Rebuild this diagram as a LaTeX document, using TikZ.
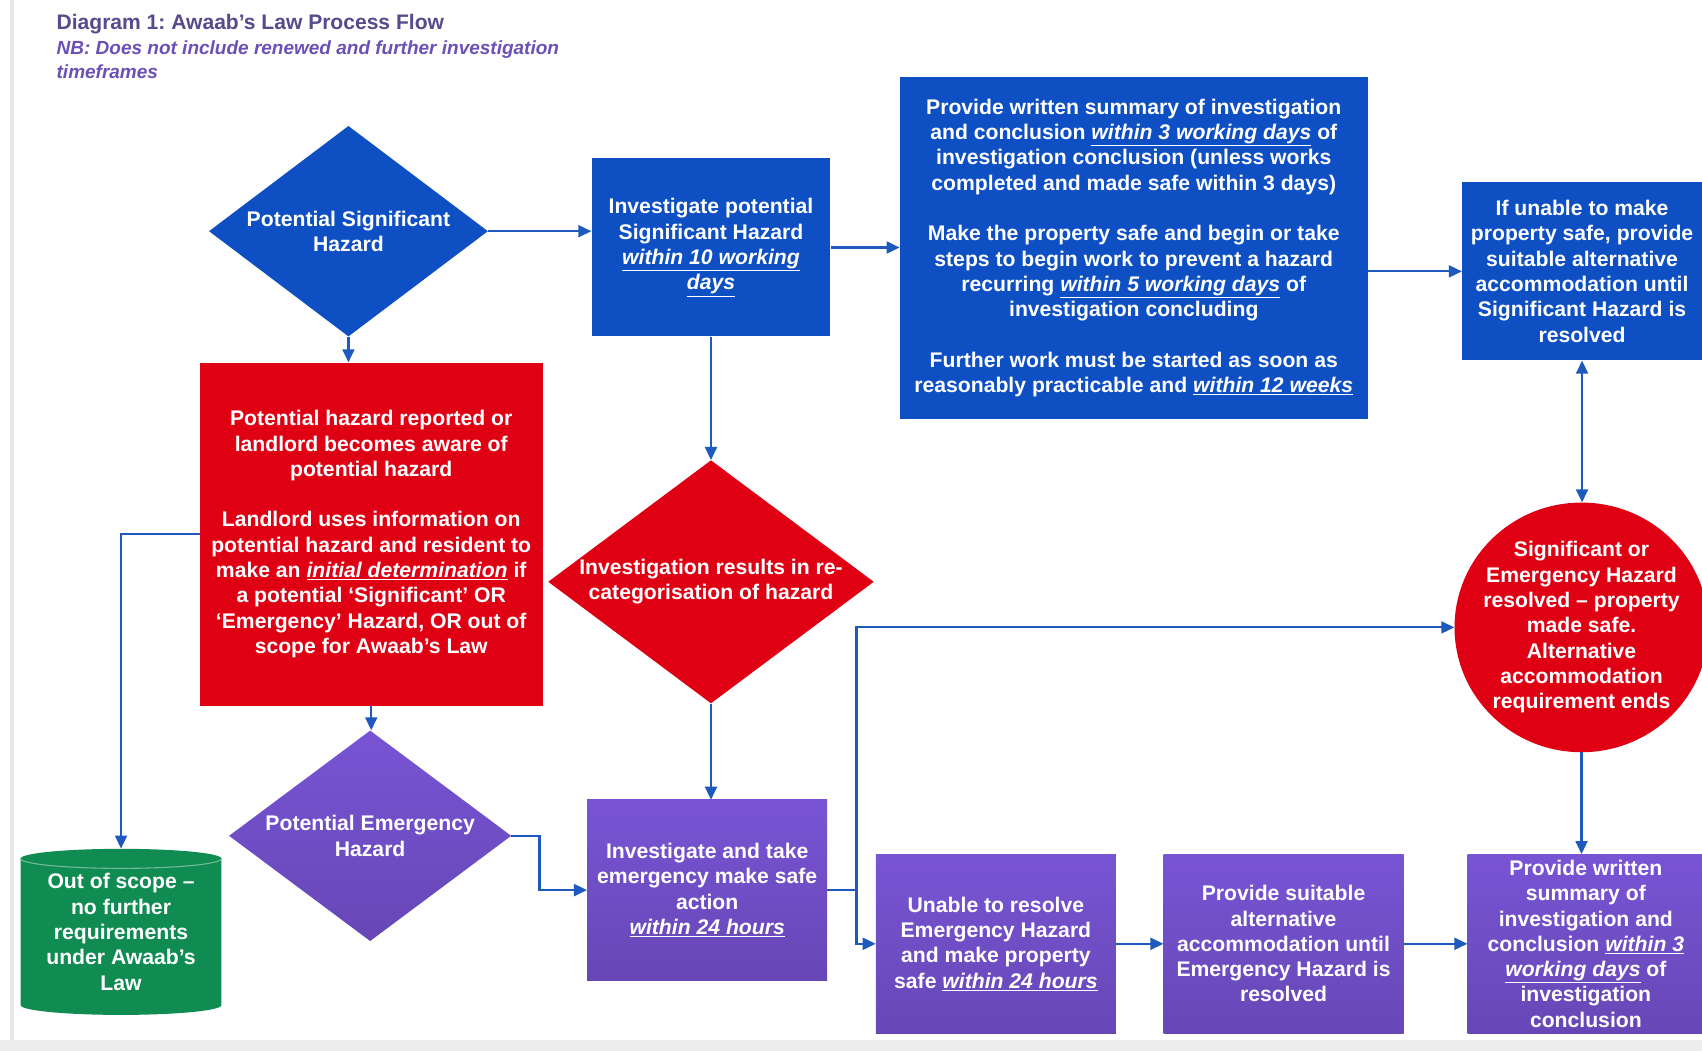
\documentclass[tikz,border=0pt]{standalone}
\usepackage{fontspec}
\setmainfont{Liberation Sans}
\usetikzlibrary{shapes.geometric,arrows.meta,calc}
\definecolor{myblue}{RGB}{14,80,196}
\definecolor{myred}{RGB}{224,0,20}
\definecolor{mypurple}{RGB}{110,76,194}
\definecolor{purpletop}{RGB}{120,84,212}
\definecolor{purplebot}{RGB}{103,71,182}
\definecolor{mygreen}{RGB}{16,140,82}
\definecolor{linecol}{RGB}{30,90,190}
\definecolor{titlecol}{RGB}{88,74,140}
\definecolor{nbcol}{RGB}{108,80,182}
\newcommand{\uit}[1]{\underline{\textit{#1}}}
\frenchspacing
\begin{document}
\begin{tikzpicture}[x=1pt,y=-1pt,
  txt/.style={text=white,font=\bfseries\fontsize{19.5}{23.3}\selectfont,align=center,inner sep=0pt},
  boxn/.style={txt,rectangle},
  purplefill/.style={top color=purpletop,bottom color=purplebot},
  conn/.style={draw=linecol,line width=2pt,-{Triangle[length=12pt,width=11pt]}},
  conn2/.style={draw=linecol,line width=2pt,{Triangle[length=12pt,width=11pt]}-{Triangle[length=12pt,width=11pt]}},
  plain/.style={draw=linecol,line width=2pt}]
\useasboundingbox (0,0) rectangle (1568,968);
\fill[white] (0,0) rectangle (1568,968);
\fill[black!9] (9,0) rectangle (13,958);
\fill[black!7] (0,958) rectangle (1568,968);

% titles
\node[anchor=west,inner sep=0pt,text=titlecol,font=\bfseries\fontsize{19.4}{22}\selectfont] (title) at (52,22) {Diagram 1: Awaab’s Law Process Flow};
\node[anchor=west,inner sep=0pt,align=left,text=nbcol,font=\bfseries\itshape\fontsize{17.5}{22}\selectfont] (nb) at (52,55) {NB: Does not include renewed and further investigation\\timeframes};

% diamonds
\node[diamond,fill=myblue,minimum width=257pt,minimum height=194pt,inner sep=0pt] (psh) at (321,213) {};
\node[txt] (pshtxt) at (psh.center) {Potential Significant\\Hazard};

\node[diamond,fill=myred,minimum width=300pt,minimum height=224pt,inner sep=0pt] (rdia) at (655,536) {};
\node[txt] (rdiatxt) at (rdia.center) {Investigation results in re-\\categorisation of hazard};

\node[diamond,purplefill,minimum width=260pt,minimum height=194pt,inner sep=0pt] (pdia) at (341,770) {};
\node[txt] (pdiatxt) at (pdia.center) {Potential Emergency\\Hazard};

% boxes
\node[boxn,fill=myblue,minimum width=220pt,minimum height=164pt] (inv) at (655,228)
  {Investigate potential\\Significant Hazard\\\uit{within 10 working}\\\uit{days}};
\node[boxn,fill=myblue,minimum width=431pt,minimum height=315pt] (big) at (1044.5,228.5)
  {Provide written summary of investigation\\
   and conclusion \uit{within 3 working days} of\\
   investigation conclusion (unless works\\
   completed and made safe within 3 days)\\[23.3pt]
   Make the property safe and begin or take\\
   steps to begin work to prevent a hazard\\
   recurring \uit{within 5 working days} of\\
   investigation concluding\\[23.3pt]
   Further work must be started as soon as\\
   reasonably practicable and \uit{within 12 weeks}};
\node[boxn,fill=myblue,minimum width=221pt,minimum height=164pt] (rbox) at (1457.5,250)
  {If unable to make\\property safe, provide\\suitable alternative\\accommodation until\\Significant Hazard is\\resolved};
\node[boxn,fill=myred,minimum width=316pt,minimum height=316pt] (red) at (342,492)
  {Potential hazard reported or\\landlord becomes aware of\\potential hazard\\[23.3pt]
   Landlord uses information on\\potential hazard and resident to\\make an \uit{initial determination} if\\a potential ‘Significant’ OR\\‘Emergency’ Hazard, OR out of\\scope for Awaab’s Law};

\node[ellipse,fill=myred,minimum width=234pt,minimum height=230pt,inner sep=0pt] (circ) at (1457,578) {};
\node[txt] (circtxt) at (circ.center) {Significant or\\Emergency Hazard\\resolved – property\\made safe.\\Alternative\\accommodation\\requirement ends};

\node[boxn,purplefill,minimum width=221pt,minimum height=166pt] (pb1) at (651.5,820)
  {Investigate and take\\emergency make safe\\action\\\uit{within 24 hours}};
\node[boxn,purplefill,minimum width=221pt,minimum height=165pt] (unable) at (917.5,869.5)
  {Unable to resolve\\Emergency Hazard\\and make property\\safe \uit{within 24 hours}};
\node[boxn,purplefill,minimum width=221pt,minimum height=165pt] (suit) at (1182.5,869.5)
  {Provide suitable\\alternative\\accommodation until\\Emergency Hazard is\\resolved};
\node[boxn,purplefill,minimum width=218pt,minimum height=165pt] (written) at (1461,869.5)
  {Provide written\\summary of\\investigation and\\conclusion \uit{within 3}\\\uit{working days} of\\investigation\\conclusion};

% cylinder
\fill[mygreen] (19,791) -- (19,926) arc[start angle=180,end angle=360,x radius=92.5pt,y radius=9pt]
  -- (204,791) arc[start angle=0,end angle=180,x radius=92.5pt,y radius=9pt] -- cycle;
\draw[mygreen!60!white,line width=1pt] (19,791) arc[start angle=180,end angle=360,x radius=92.5pt,y radius=9pt];
\node[txt,minimum width=185pt,minimum height=153pt] (oos) at (111.5,858.5)
  {Out of scope –\\no further\\requirements\\under Awaab’s\\Law};

% connectors
\coordinate (j1) at (497,800);
\coordinate (j2) at (789,820);
\draw[conn] (psh.east) -- (psh.east -| inv.west);
\draw[conn] (inv.east) -- (inv.east -| big.west);
\draw[conn] (rbox.west -| big.east) -- (rbox.west);
\draw[conn] (psh.south) -- (psh.south |- red.north);
\draw[conn] (inv.south) -- (rdia.north);
\draw[conn] (rdia.south) -- (rdia.south |- pb1.north);
\draw[conn] (red.south) -- (red.south |- pdia.north);
\draw[conn] (red.west) -| (oos.north);
\draw[conn] (pdia.east) -| (j1) |- (pb1.west);
\draw[plain] (pb1.east) -- (j2);
\draw[conn] (j2) |- (circ.west);
\draw[conn] (j2) |- (unable.west);
\draw[conn] (unable.east) -- (suit.west);
\draw[conn] (suit.east) -- (written.west);
\draw[conn2] (rbox.south) -- (rbox.south |- circ.north);
\draw[conn] (circ.south) -- (circ.south |- written.north);
\end{tikzpicture}
\end{document}
